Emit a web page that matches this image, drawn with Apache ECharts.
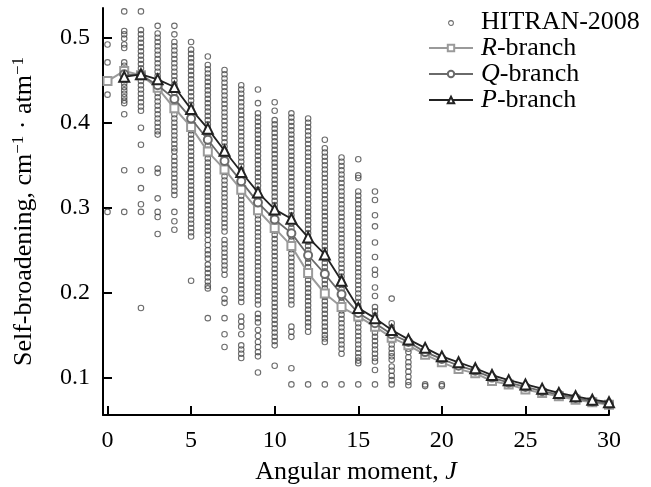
<!DOCTYPE html>
<html>
<head>
<meta charset="utf-8">
<script src="https://cdn.jsdelivr.net/npm/echarts@6/dist/echarts.min.js"></script>
<style>
html,body{margin:0;padding:0;background:#fff;}
#chart{width:651px;height:487px;}
</style>
</head>
<body>
<div id="chart"></div>
<script>
// ---- Data ----
const xTicks = [0, 5, 10, 15, 20, 25, 30];
const yTicks = [0.1, 0.2, 0.3, 0.4, 0.5];

// J values for the computed branches
const jR = [0,1,2,3,4,5,6,7,8,9,10,11,12,13,14,15,16,17,18,19,20,21,22,23,24,25,26,27,28,29,30];
const jQP = [1,2,3,4,5,6,7,8,9,10,11,12,13,14,15,16,17,18,19,20,21,22,23,24,25,26,27,28,29,30];

const rBranch = [.449,.461,.456,.441,.417,.395,.366,.345,.321,.297,.276,.255,.223,.199,.183,.172,.160,.147,.138,.127,.118,.110,.105,.096,.092,.086,.082,.078,.074,.071,.068];
const qBranch = [.457,.456,.444,.428,.405,.380,.355,.331,.306,.286,.270,.244,.222,.198,.176,.164,.151,.142,.130,.122,.114,.108,.100,.094,.089,.084,.080,.076,.072,.069];
const pBranch = [.454,.457,.451,.442,.416,.393,.367,.342,.318,.298,.287,.265,.245,.214,.182,.170,.156,.145,.135,.125,.118,.111,.103,.097,.092,.087,.082,.078,.074,.071];

// HITRAN-2008 values, one list per J (index = J)
const hitranColumns = [
  /*J0*/ [.492,.471,.433,.295],
  /*J1*/ [.531,.508,.504,.499,.492,.488,.471,.467,.454,.450,.446,.442,.438,.434,.430,.426,.423,.410,.344,.295],
  /*J2*/ [.531,.509,.504,.499,.494,.489,.484,.479,.474,.469,.464,.459,.454,.449,.444,.439,.434,.429,.424,.419,.414,.394,.374,.344,.323,.304,.295,.182],
  /*J3*/ [.514,.505,.500,.495,.490,.485,.480,.475,.470,.465,.460,.455,.450,.445,.440,.435,.430,.425,.420,.415,.410,.405,.400,.395,.390,.386,.346,.341,.311,.295,.289,.269],
  /*J4*/ [.514,.504,.495,.490,.485,.480,.475,.470,.465,.460,.455,.450,.445,.440,.435,.430,.425,.420,.415,.410,.405,.400,.395,.390,.385,.380,.375,.370,.366,.360,.355,.350,.345,.340,.335,.330,.325,.320,.315,.295,.284,.274],
  /*J5*/ [.495,.486,.481,.476,.471,.466,.461,.456,.451,.446,.441,.436,.431,.426,.421,.416,.411,.406,.401,.396,.391,.386,.381,.376,.371,.366,.361,.356,.351,.346,.341,.336,.331,.326,.321,.316,.311,.306,.301,.296,.291,.286,.281,.276,.271,.266,.214],
  /*J6*/ [.478,.468,.463,.458,.453,.448,.443,.438,.433,.428,.423,.418,.413,.408,.403,.398,.393,.388,.383,.378,.373,.368,.363,.358,.353,.348,.343,.338,.333,.328,.323,.318,.313,.308,.303,.298,.293,.288,.283,.278,.273,.268,.262,.256,.250,.245,.240,.233,.228,.223,.218,.213,.208,.205,.170],
  /*J7*/ [.462,.457,.452,.447,.442,.437,.432,.427,.422,.417,.412,.407,.402,.397,.392,.387,.382,.377,.372,.367,.362,.357,.352,.347,.342,.337,.332,.327,.322,.317,.312,.307,.302,.297,.292,.287,.282,.277,.272,.262,.257,.252,.247,.242,.237,.232,.227,.221,.203,.193,.188,.170,.151,.136],
  /*J8*/ [.444,.439,.434,.429,.424,.419,.414,.409,.404,.399,.394,.389,.384,.379,.374,.369,.364,.359,.354,.349,.344,.339,.334,.329,.324,.319,.314,.309,.304,.299,.294,.289,.284,.279,.274,.269,.264,.259,.254,.249,.244,.239,.234,.229,.224,.219,.214,.209,.204,.199,.194,.189,.172,.166,.160,.151,.138,.133,.128,.123],
  /*J9*/ [.439,.423,.411,.406,.401,.396,.391,.386,.381,.376,.371,.366,.361,.356,.351,.346,.341,.336,.331,.326,.321,.316,.311,.306,.301,.296,.291,.286,.281,.276,.271,.266,.261,.256,.251,.246,.241,.236,.231,.226,.221,.216,.211,.206,.201,.196,.191,.186,.175,.170,.165,.156,.149,.142,.136,.130,.125,.106],
  /*J10*/ [.424,.414,.403,.398,.393,.388,.383,.378,.373,.368,.363,.358,.353,.348,.343,.338,.333,.328,.323,.318,.313,.308,.303,.298,.293,.288,.283,.278,.273,.268,.263,.258,.253,.248,.243,.238,.233,.228,.223,.218,.213,.208,.203,.198,.193,.188,.183,.178,.173,.168,.163,.158,.153,.148,.143,.138,.114],
  /*J11*/ [.411,.406,.401,.396,.391,.386,.381,.376,.371,.366,.361,.356,.351,.346,.341,.336,.331,.326,.321,.316,.311,.306,.301,.296,.291,.286,.281,.276,.271,.266,.261,.256,.251,.246,.241,.236,.231,.226,.221,.216,.211,.206,.201,.196,.191,.186,.160,.154,.148,.111,.092],
  /*J12*/ [.405,.400,.395,.390,.385,.380,.375,.370,.365,.360,.355,.350,.345,.340,.335,.330,.325,.320,.315,.310,.305,.300,.295,.290,.285,.280,.275,.270,.265,.260,.255,.250,.245,.240,.235,.230,.225,.220,.215,.210,.205,.200,.195,.190,.185,.180,.175,.170,.165,.160,.154,.092],
  /*J13*/ [.380,.370,.365,.360,.355,.350,.345,.340,.335,.330,.325,.320,.315,.310,.305,.300,.295,.290,.285,.280,.275,.270,.265,.260,.255,.250,.245,.240,.235,.230,.225,.220,.215,.210,.205,.200,.195,.190,.185,.180,.175,.170,.165,.160,.155,.150,.146,.142,.092],
  /*J14*/ [.359,.354,.349,.344,.339,.334,.329,.324,.319,.314,.309,.304,.299,.294,.289,.284,.279,.274,.269,.264,.259,.254,.249,.244,.239,.234,.229,.224,.219,.214,.209,.204,.199,.194,.189,.184,.179,.174,.169,.164,.159,.154,.149,.144,.139,.134,.128,.092],
  /*J15*/ [.357,.338,.335,.319,.314,.309,.304,.299,.294,.289,.284,.279,.274,.269,.264,.259,.254,.249,.244,.239,.234,.229,.224,.219,.214,.209,.204,.199,.194,.189,.184,.179,.174,.169,.164,.159,.154,.149,.144,.139,.134,.129,.124,.120,.117,.092],
  /*J16*/ [.319,.309,.291,.278,.259,.242,.227,.221,.206,.196,.183,.178,.173,.168,.163,.158,.153,.148,.143,.138,.133,.128,.123,.119,.109,.092],
  /*J17*/ [.193,.164,.159,.154,.149,.144,.139,.134,.129,.125,.121,.113,.108,.102,.097,.092],
  /*J18*/ [.144,.138,.134,.130,.124,.118,.113,.107,.101,.095,.091],
  /*J19*/ [.092,.090],
  /*J20*/ [.092,.090]
];

// ---- Build series data from the arrays ----
const hitranData = [];
hitranColumns.forEach((col, j) => col.forEach(v => hitranData.push([j, v])));
const rData = jR.map((j, i) => [j, rBranch[i]]);
const qData = jQP.map((j, i) => [j, qBranch[i]]);
const pData = jQP.map((j, i) => [j, pBranch[i]]);

const SERIF = '"Liberation Serif","Times New Roman",serif';
const smallCircleIcon = 'image://data:image/svg+xml;utf8,' +
  encodeURIComponent('<svg xmlns="http://www.w3.org/2000/svg" width="10" height="10" viewBox="0 0 10 10"><circle cx="5" cy="6.3" r="3" fill="none" stroke="#474747" stroke-width="1.3"/></svg>');

const chart = echarts.init(document.getElementById('chart'), null, {renderer: 'canvas'});
chart.setOption({
  animation: false,
  backgroundColor: '#fff',
  grid: {left: 103, right: 42, top: 8, bottom: 72, containLabel: false, outerBoundsMode: 'none'},
  legend: {
    orient: 'vertical',
    left: 423,
    top: 4,
    itemWidth: 44,
    itemHeight: 8,
    itemGap: 0,
    data: [
      {name: 'HITRAN-2008', icon: smallCircleIcon},
      'R-branch', 'Q-branch', 'P-branch'
    ],
    formatter: function (name) {
      if (name === 'HITRAN-2008') return name;
      return '{i|' + name.charAt(0) + '}-branch';
    },
    textStyle: {
      fontFamily: SERIF, fontSize: 26, color: '#000', lineHeight: 26,
      padding: [0, 0, 0, 3],
      rich: {i: {fontFamily: SERIF, fontSize: 26, fontStyle: 'italic', color: '#000', lineHeight: 26}}
    }
  },
  xAxis: {
    type: 'value', min: -0.27, max: 30,
    name: '{n|Angular moment, }{i|J}',
    nameLocation: 'middle', nameGap: 44,
    nameTextStyle: {
      rich: {
        n: {fontFamily: SERIF, fontSize: 26, color: '#000'},
        i: {fontFamily: SERIF, fontSize: 26, color: '#000', fontStyle: 'italic'}
      }
    },
    axisLine: {show: true, onZero: false, lineStyle: {color: '#000', width: 2}},
    axisTick: {show: true, inside: true, length: 9, customValues: xTicks, lineStyle: {color: '#000', width: 2}},
    axisLabel: {customValues: xTicks, margin: 14, fontFamily: SERIF, fontSize: 24, color: '#000'},
    splitLine: {show: false}
  },
  yAxis: {
    type: 'value', min: 0.056, max: 0.535,
    name: '{n|Self-broadening, cm}{s|−1}{n| · atm}{s|−1}',
    nameLocation: 'middle', nameGap: 64, nameRotate: 90,
    nameTextStyle: {
      padding: [0, 0, 0, 0],
      rich: {
        n: {fontFamily: SERIF, fontSize: 26, color: '#000'},
        s: {fontFamily: SERIF, fontSize: 17, color: '#000', padding: [0, 0, 12, 0]}
      }
    },
    axisLine: {show: true, onZero: false, lineStyle: {color: '#000', width: 2}},
    axisTick: {show: true, inside: true, length: 9, customValues: yTicks, lineStyle: {color: '#000', width: 2}},
    axisLabel: {customValues: yTicks, margin: 13, fontFamily: SERIF, fontSize: 24, color: '#000',
      formatter: v => v.toFixed(1)},
    splitLine: {show: false}
  },
  series: [
    {
      name: 'HITRAN-2008', type: 'scatter', data: hitranData,
      symbol: 'circle', symbolSize: 5.5,
      itemStyle: {color: 'rgba(255,255,255,0)', borderColor: '#474747', borderWidth: 1.1},
      z: 1
    },
    {
      name: 'R-branch', type: 'line', data: rData,
      symbol: 'emptyRect', symbolSize: 8,
      lineStyle: {color: '#9a9a9a', width: 2},
      itemStyle: {color: '#9a9a9a', borderColor: '#9a9a9a', borderWidth: 1.5},
      z: 2
    },
    {
      name: 'Q-branch', type: 'line', data: qData,
      symbol: 'emptyCircle', symbolSize: 8,
      lineStyle: {color: '#6a6a6a', width: 1.8},
      itemStyle: {color: '#6a6a6a', borderColor: '#6a6a6a', borderWidth: 1.5},
      z: 3
    },
    {
      name: 'P-branch', type: 'line', data: pData,
      symbol: 'emptyTriangle', symbolSize: 10,
      lineStyle: {color: '#222', width: 1.8},
      itemStyle: {color: '#222', borderColor: '#222', borderWidth: 1.5},
      z: 4
    }
  ]
});
</script>
</body>
</html>
